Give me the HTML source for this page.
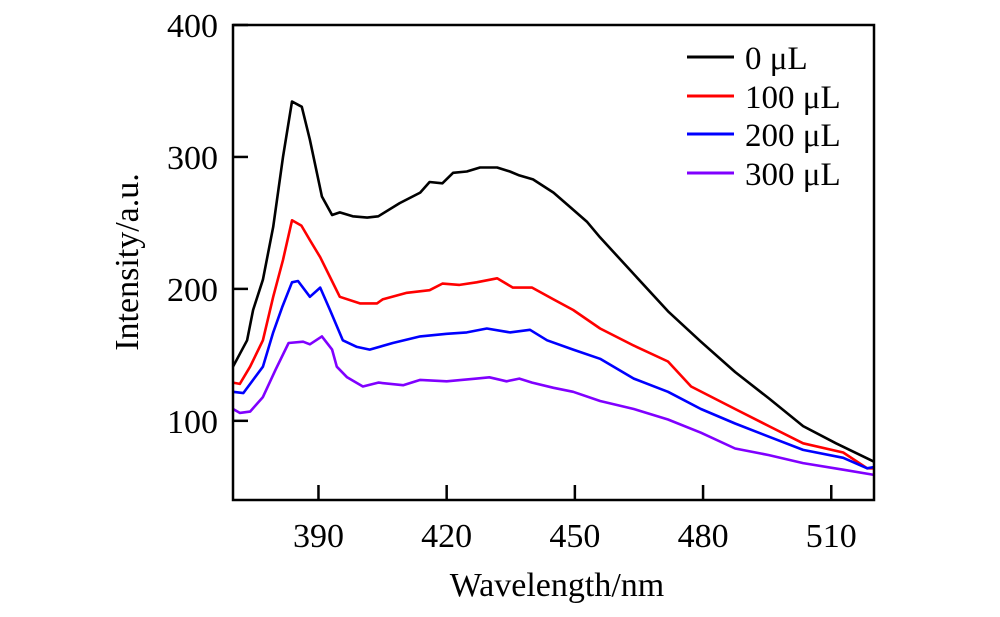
<!DOCTYPE html>
<html><head><meta charset="utf-8"><style>
body{margin:0;background:#fff;}
svg{display:block;font-family:"Liberation Serif","Times New Roman",serif;}
</style></head><body>
<svg id="chart" width="1000" height="617" viewBox="0 0 1000 617" xmlns="http://www.w3.org/2000/svg">
<g id="series"></g>
<rect x="233" y="25" width="641" height="475" fill="none" stroke="#000" stroke-width="2.5"/>
<g id="axes"></g>
<text x="557" y="596" font-size="34" text-anchor="middle">Wavelength/nm</text>
<text transform="translate(138,262) rotate(-90)" font-size="34" text-anchor="middle">Intensity/a.u.</text>
<g id="legend"></g>
</svg>
<script>
const xTicks=[390,420,450,480,510];
const yTicks=[100,200,300,400];
const seriesNames=["0 μL","100 μL","200 μL","300 μL"];
const seriesColors=["#000000","#ff0000","#0000ff","#8000ff"];
const w0=[370,373.3,374.7,377,379.4,381.7,383.8,386.1,388,390.8,393.2,395,398,401.4,404,409,413.8,416,419,421.5,424.7,427.8,431.8,434.8,437,440.2,445,448.9,452.8,455.9,463,471.8,479.5,487.5,495.4,503.4,511.1,520];
const v0=[141,161,184,207,247,300,342,338,313,270,256,258,255,254,255,265,273,281,280,288,289,292,292,289,286,283,273,262,251,239,214,183,160,137,117,96,83,69];
const w1=[370,371.6,374,377,379.4,381.7,383.8,386,388,390.4,392.7,395,399.7,403.7,405,410.7,416,419,423,427,431.8,435.5,440,445,449.6,455.9,463.8,471.8,477.2,487.5,495.4,503.4,512.8,518.4,520];
const v1=[129,128,141,161,194,222,252,248,237,224,209,194,189,189,192,197,199,204,203,205,208,201,201,192,184,170,157,145,126,109,96,83,76,64,64];
const w2=[370,372.4,374.7,377,379.4,381.5,383.8,385.2,388,390.4,392.7,395.7,399,402,407.4,413.8,420,424.7,429.4,434.8,439.5,443.5,449.6,455.9,463.8,471.8,479.5,487.5,495.4,503.4,512.8,518.4,520];
const v2=[122,121,131,141,167,186,205,206,194,201,184,161,156,154,159,164,166,167,170,167,169,161,154,147,132,122,109,98,88,78,72,64,65];
const w3=[370,371.6,374,377,380,383,386.4,388,390.8,393.2,394.3,396.7,400.4,404,409.8,413.8,420,427,430,434,437,440,445,449.6,455.9,463.8,471.8,479.5,487.5,495.4,503.4,512.8,520];
const v3=[109,106,107,118,139,159,160,158,164,154,141,133,126,129,127,131,130,132,133,130,132,129,125,122,115,109,101,91,79,74,68,63,59];
const seriesW=[w0,w1,w2,w3];
const seriesV=[v0,v1,v2,v3];
const X0=233,X1=874,Y0=500,Y1=25,XMIN=370,XMAX=520,YMIN=40,YMAX=400;
function sx(w){return X0+(w-XMIN)/(XMAX-XMIN)*(X1-X0);}
function sy(v){return Y0-(v-YMIN)/(YMAX-YMIN)*(Y0-Y1);}
const NS="http://www.w3.org/2000/svg";
const gs=document.getElementById('series');
seriesW.forEach((ws,i)=>{
  const p=document.createElementNS(NS,'polyline');
  p.setAttribute('points',ws.map((w,j)=>sx(w).toFixed(1)+','+sy(seriesV[i][j]).toFixed(1)).join(' '));
  p.setAttribute('fill','none');p.setAttribute('stroke',seriesColors[i]);p.setAttribute('stroke-width','2.6');p.setAttribute('stroke-linejoin','round');
  
  
  gs.appendChild(p);
});
const ga=document.getElementById('axes');
xTicks.forEach(t=>{
  const l=document.createElementNS(NS,'line');
  l.setAttribute('x1',sx(t));l.setAttribute('x2',sx(t));l.setAttribute('y1',Y0);l.setAttribute('y2',Y0-15);l.setAttribute('stroke','#000');l.setAttribute('stroke-width','2.5');
  
  
  ga.appendChild(l);
  const tx=document.createElementNS(NS,'text');
  tx.setAttribute('x',sx(t));tx.setAttribute('y',547);tx.setAttribute('font-size','34');tx.setAttribute('text-anchor','middle');
  tx.textContent=t;
  
  
  ga.appendChild(tx);
});
yTicks.forEach(t=>{
  const l=document.createElementNS(NS,'line');
  l.setAttribute('x1',X0);l.setAttribute('x2',X0+15);l.setAttribute('y1',sy(t));l.setAttribute('y2',sy(t));l.setAttribute('stroke','#000');l.setAttribute('stroke-width','2.5');
  
  
  ga.appendChild(l);
  const tx=document.createElementNS(NS,'text');
  tx.setAttribute('x',218);tx.setAttribute('y',sy(t)+12);tx.setAttribute('font-size','34');tx.setAttribute('text-anchor','end');
  tx.textContent=t;
  
  
  ga.appendChild(tx);
});
const gl=document.getElementById('legend');
const ly=[57,96,134,173];
seriesNames.forEach((n,i)=>{
  const l=document.createElementNS(NS,'line');
  l.setAttribute('x1',687);l.setAttribute('x2',734);l.setAttribute('y1',ly[i]);l.setAttribute('y2',ly[i]);l.setAttribute('stroke',seriesColors[i]);l.setAttribute('stroke-width','3');
  
  
  gl.appendChild(l);
  const tx=document.createElementNS(NS,'text');
  tx.setAttribute('x',745);tx.setAttribute('y',ly[i]+12);tx.setAttribute('font-size','33');
  tx.textContent=n;
  
  
  gl.appendChild(tx);
});
</script>
</body></html>
